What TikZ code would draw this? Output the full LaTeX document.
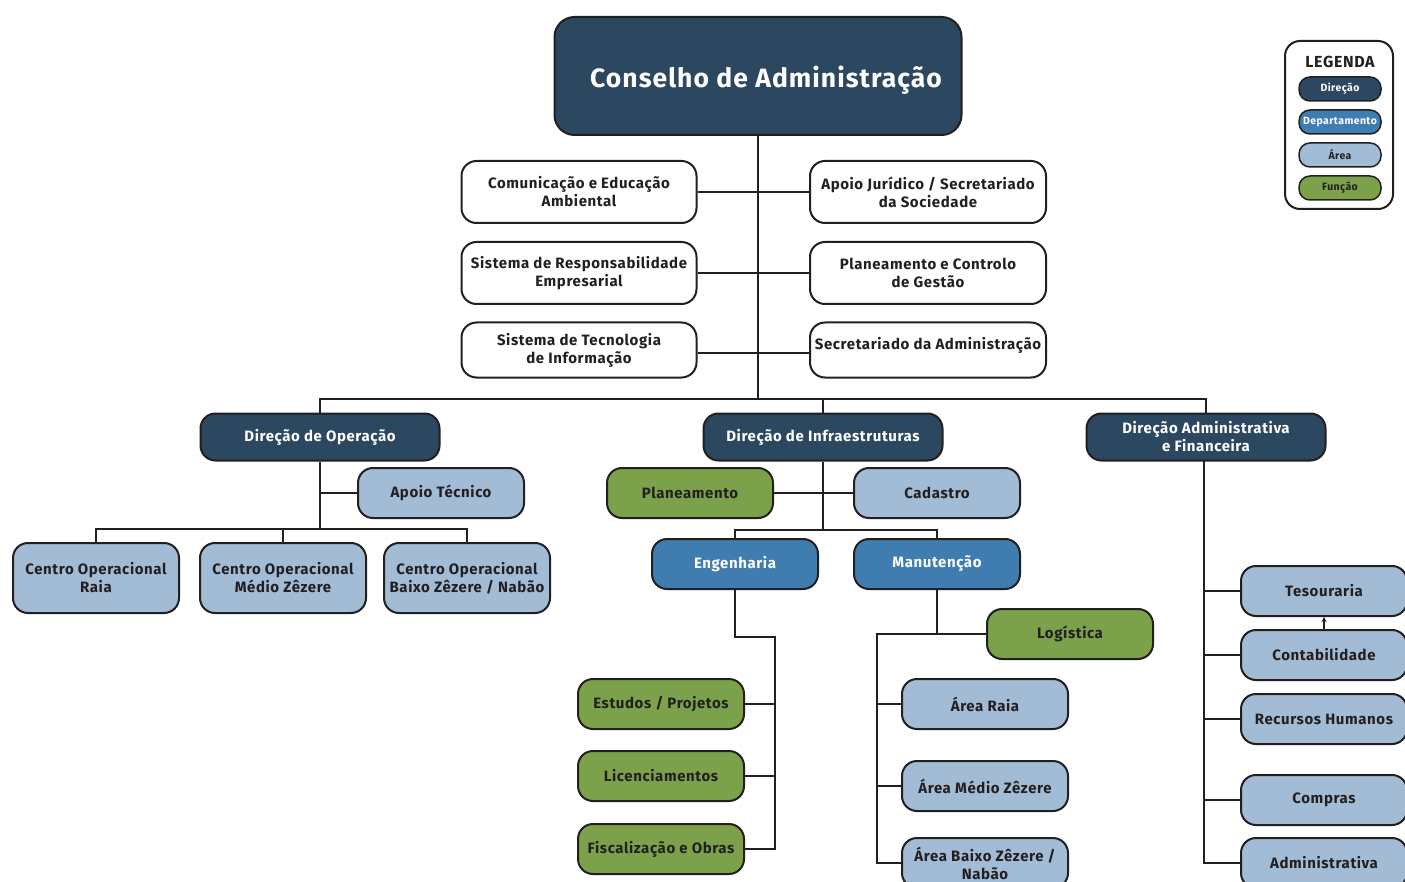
\documentclass[tikz,border=0pt]{standalone}
\usepackage{fontspec}
\setmainfont{Fira Sans}[LetterSpace=4]
\usetikzlibrary{arrows.meta}
\definecolor{ink}{HTML}{231F20}
\definecolor{navy}{HTML}{2C4760}
\definecolor{dept}{HTML}{3F7CB0}
\definecolor{area}{HTML}{A2BCD6}
\definecolor{func}{HTML}{7BA24A}
\tikzset{
  box/.style={draw=ink, line width=2pt, rounded corners=15pt, align=center,
    inner sep=0pt, minimum width=166pt, minimum height=50pt, text=ink,
    font=\fontsize{15}{18}\selectfont\bfseries},
  wbox/.style={box, fill=white, minimum width=235pt, minimum height=62pt},
  dirbox/.style={box, fill=navy, text=white, minimum width=239pt, minimum height=47pt},
  deptbox/.style={box, fill=dept, text=white},
  areabox/.style={box, fill=area},
  funcbox/.style={box, fill=func},
  conn/.style={draw=ink, line width=2pt},
  pill/.style={draw=ink, line width=1.5pt, rounded corners=11pt, minimum width=82pt,
    minimum height=24pt, inner sep=0pt, font=\fontsize{10.5}{12}\selectfont\bfseries}
}
\begin{document}
\begin{tikzpicture}[x=1pt, y=-1pt]
\useasboundingbox (0,0) rectangle (1405,882);
\clip (0,0) rectangle (1405,882);
\fill[white] (0,0) rectangle (1405,882);

% top
\node[box, fill=navy, text=white, minimum width=407pt, minimum height=118pt, rounded corners=20pt,
  text height=26pt, text depth=2pt, font=\fontsize{26.5}{30}\selectfont\bfseries] (ca) at (758,76) {\hspace*{16pt}Conselho de Administração};

\node[wbox] (ce) at (579,192) {Comunicação e Educação\\Ambiental};
\node[wbox] (sr) at (579,273) {Sistema de Responsabilidade\\Empresarial};
\node[wbox, minimum height=55pt] (st) at (579,350) {Sistema de Tecnologia\\de Informação};
\node[wbox, minimum width=236pt] (aj) at (928,192) {Apoio Jurídico / Secretariado\\da Sociedade};
\node[wbox, minimum width=236pt] (pc) at (928,273) {Planeamento e Controlo\\de Gestão};
\node[wbox, minimum width=236pt, minimum height=55pt, text depth=14pt] (sa) at (928,350) {Secretariado da Administração};

% direcoes
\node[dirbox] (dop) at (320,437) {Direção de Operação};
\node[dirbox] (dinf) at (823,437) {Direção de Infraestruturas};
\node[dirbox] (dadm) at (1206,437) {Direção Administrativa\\e Financeira};

\coordinate (bus) at (758,399);
\draw[conn] (ca.south) -- (bus);
\draw[conn] (ce.east) -- (aj.west);
\draw[conn] (sr.east) -- (pc.west);
\draw[conn] ([yshift=-3pt]st.east) -- ([yshift=-3pt]sa.west);
\draw[conn] (dop.north) -- (dop.north |- bus) -- (dadm.north |- bus) -- (dadm.north);
\draw[conn] (dinf.north) -- (dinf.north |- bus);

% operacao
\node[areabox] (at) at (441,493) {Apoio Técnico};
\node[areabox, minimum height=70pt] (cor) at (96,578) {Centro Operacional\\Raia};
\node[areabox, minimum height=70pt] (com) at (283,578) {Centro Operacional\\Médio Zêzere};
\node[areabox, minimum height=70pt] (cob) at (467,578) {Centro Operacional\\Baixo Zêzere / Nabão};
\coordinate (opbus) at (318,529);
\draw[conn] (dop.south) -- (dop.south |- opbus);
\draw[conn] (at.west) -- (at.west -| dop.south);
\draw[conn] (cor.north) -- (cor.north |- opbus) -- (cob.north |- opbus) -- (cob.north);
\draw[conn] (com.north) -- (com.north |- opbus);

% infraestruturas
\node[funcbox] (pl) at (690,493) {Planeamento};
\node[areabox] (cad) at (937,493) {Cadastro};
\node[deptbox] (eng) at (735,564) {Engenharia};
\node[deptbox] (man) at (937,564) {Manutenção};
\coordinate (infbus) at (824,530);
\draw[conn] (dinf.south) -- (dinf.south |- infbus);
\draw[conn] (pl.east) -- (cad.west);
\draw[conn] (eng.north) -- (eng.north |- infbus) -- (man.north |- infbus) -- (man.north);

\node[funcbox] (est) at (661,704) {Estudos / Projetos};
\node[funcbox] (lic) at (661,776) {Licenciamentos};
\node[funcbox] (fis) at (661,849) {Fiscalização e Obras};
\coordinate (engk) at (775,637);
\draw[conn] (eng.south) |- (engk) -- (engk |- fis.east) -- (fis.east);
\draw[conn] (est.east) -- (est.east -| engk);
\draw[conn] (lic.east) -- (lic.east -| engk);

\node[funcbox] (log) at (1070,634) {Logística};
\node[areabox] (ar) at (985,704) {Área Raia};
\node[areabox] (amz) at (985,786) {Área Médio Zêzere};
\node[areabox] (abz) at (985,863) {Área Baixo Zêzere /\\Nabão};
\coordinate (mank) at (877,634);
\draw[conn] (man.south) -- (man.south |- log.west);
\draw[conn] (log.west) -- (mank) -- (mank |- abz.west) -- (abz.west);
\draw[conn] (ar.west) -- (ar.west -| mank);
\draw[conn] (amz.west) -- (amz.west -| mank);

% administrativa
\node[areabox] (tes) at (1324,591) {Tesouraria};
\node[areabox] (cont) at (1324,655) {Contabilidade};
\node[areabox] (rh) at (1324,719) {Recursos Humanos};
\node[areabox] (comp) at (1324,800) {Compras};
\node[areabox] (adm) at (1324,863) {Administrativa};
\coordinate (admk) at (1204,461);
\draw[conn] (admk) -- (admk |- adm.west) -- (adm.west);
\draw[conn] (tes.west) -- (tes.west -| admk);
\draw[conn] (cont.west) -- (cont.west -| admk);
\draw[conn] (rh.west) -- (rh.west -| admk);
\draw[conn] (comp.west) -- (comp.west -| admk);
\draw[draw=ink, line width=1.5pt, -{Stealth[length=5pt,width=5pt]}] (cont.north) -- (tes.south);

% legenda
\node[draw=ink, line width=2pt, rounded corners=15pt, fill=white, minimum width=108pt,
  minimum height=168pt, inner sep=0pt] (leg) at (1339,125) {};
\node[font=\fontsize{16}{18}\selectfont\bfseries, text=ink] (legt) at (1340,62) {LEGENDA};
\node[pill, fill=navy, text=white] (l1) at (1340,89) {Direção};
\node[pill, fill=dept, text=white] (l2) at (1340,122) {Departamento};
\node[pill, fill=area, text=ink] (l3) at (1340,155) {Área};
\node[pill, fill=func, text=ink] (l4) at (1340,188) {Função};
\end{tikzpicture}
\end{document}
